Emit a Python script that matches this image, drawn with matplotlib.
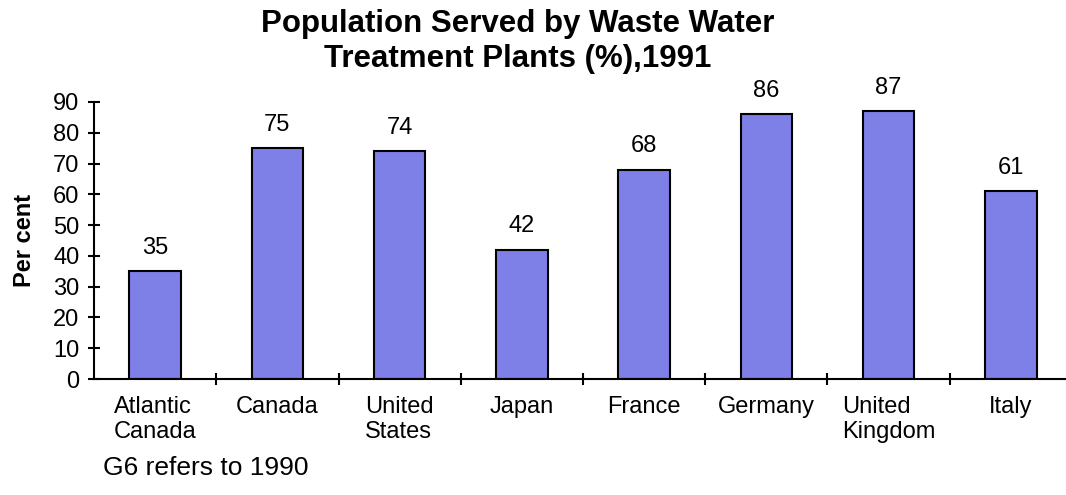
import matplotlib.pyplot as plt
import numpy as np

plt.rcParams['font.family'] = ['Liberation Sans', 'DejaVu Sans']

# === data ===
countries = ['Atlantic\nCanada', 'Canada', 'United\nStates', 'Japan', 'France',
             'Germany', 'United\nKingdom', 'Italy']
served = [35, 75, 74, 42, 68, 86, 87, 61]
y_ticks = [0, 10, 20, 30, 40, 50, 60, 70, 80, 90]

fig = plt.figure(figsize=(10.66, 4.95), dpi=100)
ax = fig.add_axes([0.0882, 0.2343, 0.9174, 0.5597])

x = np.arange(len(countries))
bars = ax.bar(x, served, width=0.42, color='#7f7fe8', edgecolor='black', linewidth=1.5)

for b, v in zip(bars, served):
    ax.annotate(str(v), (b.get_x() + b.get_width() / 2, v), xytext=(0, 9),
                textcoords='offset points', ha='center', va='bottom', fontsize=17)

ax.set_xlim(-0.5, len(countries) - 0.5)
ax.set_ylim(0, 90)
ax.set_yticks(y_ticks)
ax.tick_params(axis='y', direction='inout', length=9, width=1.5, labelsize=17, pad=6)

# labels at centres, tick marks at the category boundaries
ax.set_xticks(x)
ax.set_xticklabels(countries, fontsize=17, multialignment='left', linespacing=1.2)
ax.tick_params(axis='x', which='major', length=0, pad=12)
ax.set_xticks(np.arange(0.5, len(countries) - 0.5), minor=True)
ax.tick_params(axis='x', which='minor', direction='inout', length=9, width=1.5)

for s in ['top', 'right']:
    ax.spines[s].set_visible(False)
for s in ['left', 'bottom']:
    ax.spines[s].set_linewidth(1.5)

ax.set_ylabel('Per cent', fontsize=17, fontweight='bold', labelpad=12)

fig.text(0.4855, 0.982, 'Population Served by Waste Water\nTreatment Plants (%),1991',
         ha='center', va='top', fontsize=22.5, fontweight='bold', linespacing=1.2)
fig.text(0.097, 0.055, 'G6 refers to 1990', fontsize=19, va='center')

fig.savefig('out.png', dpi=100)
